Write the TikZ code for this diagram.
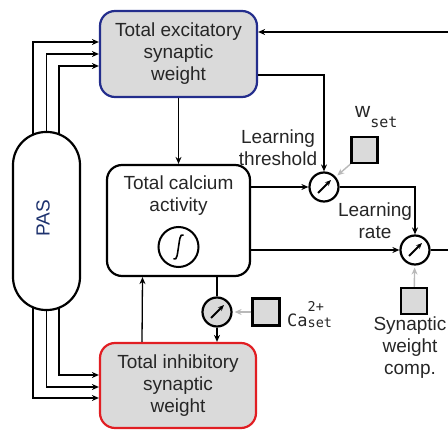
\documentclass[tikz,border=0pt]{standalone}
\usepackage{fontspec}
\setmainfont{Liberation Sans}
\newfontfamily\monofont{DejaVu Sans Mono}
\usetikzlibrary{backgrounds,arrows.meta}
\definecolor{excblue}{RGB}{35,45,140}
\definecolor{inhred}{RGB}{225,30,35}
\definecolor{boxgray}{RGB}{218,218,218}
\definecolor{setgray}{RGB}{185,185,185}
\definecolor{pasblue}{RGB}{30,50,110}

\begin{document}
\begin{tikzpicture}[x=1pt,y=-1pt,font=\fontsize{19}{22}\selectfont,text=black!85,
	wbox/.style={draw=#1,fill=boxgray,line width=2.2pt,rounded corners=15pt,minimum width=157pt,minimum height=86pt,align=center,inner sep=0pt},
	gauge/.style={circle,draw,line width=2.2pt,fill=#1,minimum size=29pt,inner sep=0pt,
		path picture={\draw[-{Stealth[length=6pt,width=5pt]},line width=1.8pt] ([shift={(-6pt,-6pt)}]path picture bounding box.center) -- ([shift={(7pt,7pt)}]path picture bounding box.center);}},
	gauge/.default=white,
	setbox/.style={draw,fill=boxgray,line width=2.4pt,minimum size=26pt,inner sep=0pt},
	conn/.style={line width=1.3pt,-{Stealth[length=7pt,width=6pt]}},
	setarrow/.style={draw=setgray,line width=1.4pt,-{Stealth[length=7pt,width=6pt]},shorten >=2pt}]
	\useasboundingbox (0,0) rectangle (448,430);
	
	% boxes
	\node (exc) [wbox=excblue] at (178.5,54) {Total excitatory\\synaptic\\weight};
	\node (inh) [wbox=inhred,minimum width=156pt,minimum height=85pt] at (178,385.5) {Total inhibitory\\synaptic\\weight};
	\node (cal) [draw,line width=2.2pt,rounded corners=15pt,minimum width=143pt,minimum height=111pt] at (178.5,220.5) {};
	\node (calTxt) [align=center] at (178.5,196) {Total calcium\\activity};
	\node (integ) [circle,draw,line width=2pt,minimum size=40pt,
		path picture={\draw[line width=1.6pt] ([shift={(-5pt,-12pt)}]path picture bounding box.center) .. controls ([shift={(-1pt,-14pt)}]path picture bounding box.center) and ([shift={(-1pt,-5pt)}]path picture bounding box.center) .. (path picture bounding box.center) .. controls ([shift={(1pt,5pt)}]path picture bounding box.center) and ([shift={(1pt,14pt)}]path picture bounding box.center) .. ([shift={(5pt,12pt)}]path picture bounding box.center);}]
		at (178.5,247) {};
	\node (pas) [draw,fill=white,line width=2.2pt,rounded corners=33pt,minimum width=67pt,minimum height=178pt] at (46.5,221) {};
	\node (pasTxt) [rotate=90,text=pasblue] at (43,218) {PAS};
	
	% comparators and set points
	\node (cmpT) [gauge] at (324,187) {};
	\node (cmpR) [gauge] at (415,250) {};
	\node (cmpC) [gauge=boxgray] at (217,312) {};
	\node (wsq) [setbox] at (364.5,150) {};
	\node (casq) [setbox,minimum size=27pt] at (266,312) {};
	\node (swsq) [setbox] at (414,301) {};
	
	% labels
	\node (thrLbl) [align=center] at (278,148) {Learning\\threshold};
	\node (rateLbl) [align=center] at (375,221) {Learning\\rate};
	\node (compLbl) [align=center] at (410,348) {Synaptic\\weight\\comp.};
	\node (wLbl) [anchor=base west,inner sep=0pt] at (355,118) {\fontsize{21}{21}\selectfont w\monofont\fontsize{15}{15}\selectfont\raisebox{-10pt}{set}};
	\node (caLbl) [anchor=base west,inner sep=0pt] at (287,327) {\monofont\fontsize{17}{17}\selectfont Ca\fontsize{13.5}{13.5}\selectfont\rlap{\raisebox{15pt}{2+}}\raisebox{-1pt}{set}};
	
	\coordinate (loopIn) at (448,32);
	\coordinate (loopOut) at (448,250);
	
	% PAS feeds
	\begin{scope}[on background layer]
		\draw[conn] ([xshift=-13.5pt,yshift=-15pt]pas.north) |- ([yshift=12pt]exc.west);
		\draw[conn] ([yshift=-15pt]pas.north) |- (exc.west);
		\draw[conn] ([xshift=12.5pt,yshift=-15pt]pas.north) |- ([yshift=-12pt]exc.west);
		\draw[conn] ([xshift=-13.5pt,yshift=15pt]pas.south) |- ([yshift=-12.5pt]inh.west);
		\draw[conn] ([yshift=15pt]pas.south) |- ([yshift=-1.5pt]inh.west);
		\draw[conn] ([xshift=12.5pt,yshift=15pt]pas.south) |- ([yshift=10.5pt]inh.west);
	\end{scope}
	
	\draw[conn] (loopIn) -- (loopIn -| exc.east);
	\draw[conn] (exc) -- (cal);
	\draw[conn] ([yshift=-21pt]exc.east) -| (cmpT.north);
	\draw[conn] (cmpT -| cal.east) -- (cmpT);
	\draw[conn] (cmpR -| cal.east) -- (cmpR);
	\draw[conn] (cmpT) -| (cmpR.north);
	\draw[line width=1.3pt] (cmpR) -- (loopOut);
	\draw[line width=1.3pt] (cal.south -| cmpC) -- (cmpC);
	\draw[conn] (cmpC) -- (inh.north -| cmpC);
	\draw[conn] ([xshift=-36pt]inh.north) -- ([xshift=-36pt]cal.south);
	\draw[setarrow] (wsq.south west) -- (cmpT);
	\draw[setarrow] (casq) -- (cmpC);
	\draw[setarrow] (swsq) -- (cmpR);
	
\end{tikzpicture}
\end{document}
